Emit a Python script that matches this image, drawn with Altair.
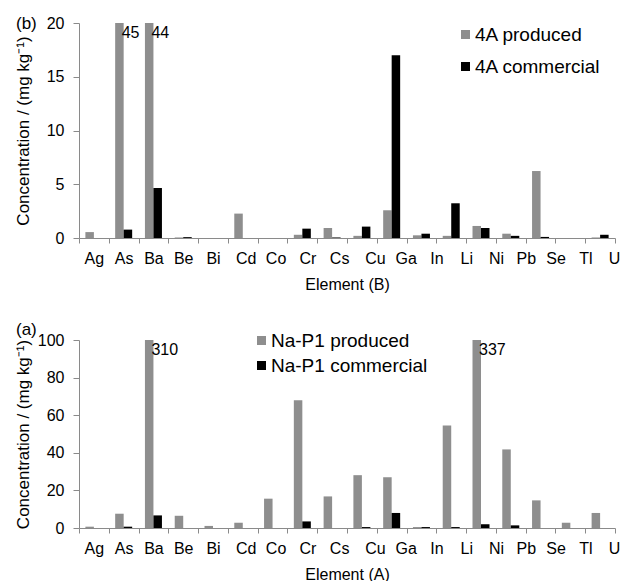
import json
import altair as alt
import pandas as pd

# ---------------- data ----------------
elements = ["Ag", "As", "Ba", "Be", "Bi", "Cd", "Co", "Cr", "Cs",
            "Cu", "Ga", "In", "Li", "Ni", "Pb", "Se", "Tl", "U"]

# panel (b)
b_series = ["4A produced", "4A commercial"]
b_produced = [0.55, 45, 44, 0.05, 0, 2.27, 0, 0.3, 0.93,
              0.2, 2.58, 0.25, 0.2, 1.12, 0.4, 6.23, 0, 0.05]
b_commercial = [0, 0.78, 4.65, 0.08, 0, 0, 0, 0.87, 0.05,
                1.06, 17.0, 0.4, 3.23, 0.93, 0.2, 0.1, 0, 0.3]
b_ymax = 20
b_yticks = [0, 5, 10, 15, 20]

# panel (a)
a_series = ["Na-P1 produced", "Na-P1 commercial"]
a_produced = [0.7, 7.6, 310, 6.5, 1.1, 2.8, 15.6, 68, 16.8,
              28.1, 27, 0.5, 54.5, 337, 41.8, 14.7, 2.8, 8]
a_commercial = [0, 0.7, 6.7, 0, 0, 0, 0, 3.5, 0,
                0.5, 8, 0.5, 0.5, 2, 1.4, 0, 0, 0]
a_ymax = 100
a_yticks = [0, 20, 40, 60, 80, 100]

# ---------------- style ----------------
FONT = "Liberation Sans"
GREY = "#8e8e8e"
AXIS_GREY = "#8a8a8a"
YTITLE = "Concentration / (mg kg\u207b\u00b9)"
BAR_W = 8.5
# small per-label horizontal nudge (pixels) seen in the original figure
LABEL_NUDGE = [0, 0, 0, 0, 0, 3, 3, 5, 7, 13, 14, 15, 15, 15, 15, 15, 15, 14]
nudge_expr = "%s[indexof(%s, datum.value)]" % (json.dumps(LABEL_NUDGE), json.dumps(elements))


def panel(series, produced, commercial, ymax, yticks, letter, xtitle,
          height, lx, ly, rowpad, letter_y):
    df_p = pd.DataFrame({"element": elements, "series": series[0], "value": produced})
    df_c = pd.DataFrame({"element": elements, "series": series[1], "value": commercial})
    over = df_p[df_p["value"] > ymax]

    x = alt.X("element:N",
              scale=alt.Scale(domain=elements, paddingInner=0, paddingOuter=0),
              axis=alt.Axis(title=xtitle, labelAngle=0, tickBand="extent",
                            tickSize=5, labelPadding=7, titlePadding=10,
                            labelOffset={"expr": nudge_expr},
                            labelOverlap=False))
    y = alt.Y("value:Q",
              scale=alt.Scale(domain=[0, ymax], clamp=True, nice=False),
              axis=alt.Axis(values=yticks, title=YTITLE, tickSize=6,
                            labelPadding=9, titleX=-47, titleFontSize=17,
                            labelOverlap=False))
    color = alt.Color("series:N",
                      scale=alt.Scale(domain=series, range=[GREY, "#000000"]),
                      legend=alt.Legend(title=None, orient="none",
                                        legendX=lx, legendY=ly,
                                        symbolType="square", symbolSize=81,
                                        symbolStrokeWidth=0,
                                        labelFontSize=19, labelFont=FONT,
                                        labelColor="#000000",
                                        labelLimit=400, rowPadding=rowpad,
                                        labelOffset=0))
    bars_p = alt.Chart(df_p).mark_bar(width=BAR_W, xOffset=-BAR_W / 2).encode(
        x=x, y=y, color=color)
    bars_c = alt.Chart(df_c).mark_bar(width=BAR_W, xOffset=BAR_W / 2).encode(
        x=x, y=y, color=color)
    notes = alt.Chart(over).mark_text(
        align="left", baseline="top", dx=-2, dy=2, fontSize=16, font=FONT,
        color="#000000"
    ).encode(x=x, y=y, text=alt.Text("value:Q", format="d"))
    tag = alt.Chart(pd.DataFrame({"panel": [letter]})).mark_text(
        align="left", baseline="middle", fontSize=17, font=FONT,
        color="#000000"
    ).encode(text="panel:N", x=alt.value(-63), y=alt.value(letter_y))
    return alt.layer(bars_p, bars_c, notes, tag).properties(width=536, height=height)


top = panel(b_series, b_produced, b_commercial, b_ymax, b_yticks, "(b)",
            "Element (B)", 215, 377, 2, 12, 1)
bottom = panel(a_series, a_produced, a_commercial, a_ymax, a_yticks, "(a)",
               "Element (A)", 188, 173, -9, 5, -10)

chart = alt.vconcat(top, bottom, spacing=29).resolve_scale(
    color="independent", y="independent"
).properties(
    padding={"left": 13, "top": 15, "right": 0, "bottom": 0}
).configure_view(stroke=None).configure_axis(
    labelFont=FONT, titleFont=FONT, labelFontSize=16, titleFontSize=16,
    titleFontWeight="normal", labelColor="#000000", titleColor="#000000",
    domainColor=AXIS_GREY, tickColor=AXIS_GREY, grid=False,
)

chart.save("out.html", embed_options={"renderer": "svg", "actions": False})
